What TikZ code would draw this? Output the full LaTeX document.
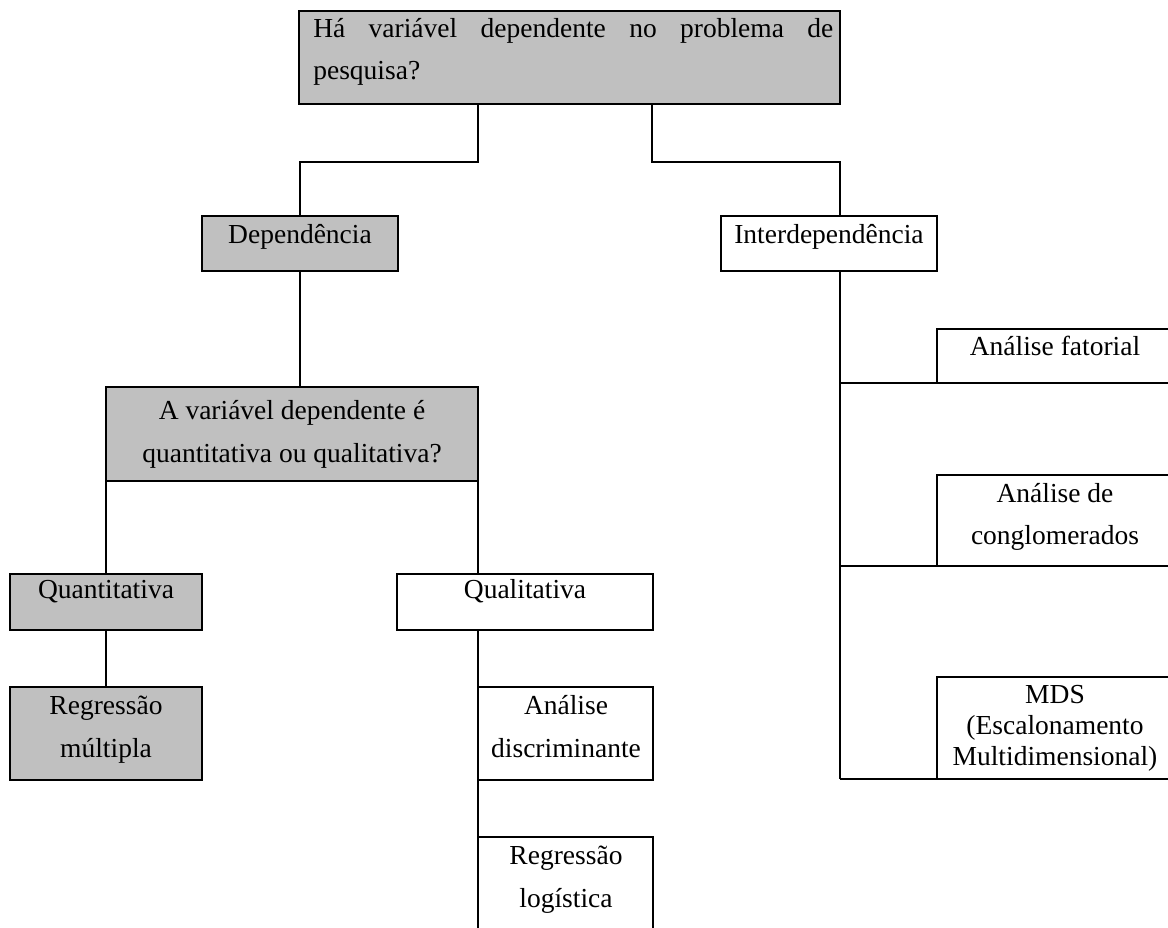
\documentclass[tikz,border=0pt]{standalone}
\usepackage{fontspec}
\setmainfont{Liberation Serif}
\usetikzlibrary{fit,calc}
\definecolor{boxgray}{HTML}{C0C0C0}
\begin{document}
\begin{tikzpicture}[x=0.5pt,y=-0.5pt,line width=1.3pt,
  graybox/.style={draw=black,fill=boxgray,inner sep=0pt,outer sep=0pt},
  whitebox/.style={draw=black,fill=white,inner sep=0pt,outer sep=0pt},
  txt/.style={anchor=base,inner sep=0pt,font=\fontsize{13.75}{16}\selectfont},
  txtw/.style={anchor=base west,inner sep=0pt,font=\fontsize{13.75}{16}\selectfont}]
\useasboundingbox (0,0) rectangle (1168,927);
\clip (0,0) rectangle (1168,927);
% boxes
\node[graybox,fit={(299,11)(840,104)}] (top) {};
\node[graybox,fit={(202,216)(398,271)}] (dep) {};
\node[whitebox,fit={(721,216)(937,271)}] (inter) {};
\node[graybox,fit={(106,387)(478,481)}] (q) {};
\node[graybox,fit={(10,574)(202,630)}] (quant) {};
\node[whitebox,fit={(397,574)(653,630)}] (qual) {};
\node[graybox,fit={(10,687)(202,780)}] (regm) {};
\node[whitebox,fit={(478,687)(653,780)}] (disc) {};
\node[whitebox,fit={(478,837)(653,960)}] (reglog) {};
\node[whitebox,fit={(937,329)(1180,383)}] (fat) {};
\node[whitebox,fit={(937,475)(1180,566)}] (cong) {};
\node[whitebox,fit={(937,677)(1180,779)}] (mds) {};
% texts
\node[txtw] (t1) at (312,37) {\makebox[260pt][s]{Há variável dependente no problema de}};
\node[txtw] (t2) at (312,79) {pesquisa?};
\node[txt] (tdep) at (300,243) {Dependência};
\node[txt] (tint) at (829,243) {Interdependência};
\node[txt] (tq1) at (292,419) {A variável dependente é};
\node[txt] (tq2) at (292,462) {quantitativa ou qualitativa?};
\node[txt] (tquant) at (106,598) {Quantitativa};
\node[txt] (tqual) at (525,598) {Qualitativa};
\node[txt] (trm1) at (106,714) {Regressão};
\node[txt] (trm2) at (106,757) {múltipla};
\node[txt] (tad1) at (566,714) {Análise};
\node[txt] (tad2) at (566,757) {discriminante};
\node[txt] (trl1) at (566,864) {Regressão};
\node[txt] (trl2) at (566,907) {logística};
\node[txt] (tfat) at (1055,355) {Análise fatorial};
\node[txt] (tc1) at (1055,502) {Análise de};
\node[txt] (tc2) at (1055,544) {conglomerados};
\node[txt] (tm1) at (1055,703) {MDS};
\node[txt] (tm2) at (1055,734) {(Escalonamento};
\node[txt] (tm3) at (1055,765) {Multidimensional)};
% connectors
\coordinate (j1) at (478,162);
\coordinate (j2) at (652,162);
\coordinate (sp) at (840,0);
\draw (top.south -| j1) -- (j1) -| (dep.north);
\draw (top.south -| j2) -- (j2) -| (inter.north -| sp);
\draw (dep.south) -- (dep.south |- q.north);
\draw (q.south west) -- (quant.north);
\draw (q.south east) -- (q.south east |- qual.north);
\draw (quant.south) -- (regm.north);
\draw (qual.south -| disc.west) -- (disc.north west);
\draw (disc.south west) -- (reglog.north west);
\draw (inter.south -| sp) -- (sp |- mds.south);
\draw (sp |- fat.south) -- (fat.south west);
\draw (sp |- cong.south) -- (cong.south west);
\draw (sp |- mds.south) -- (mds.south west);
\end{tikzpicture}
\end{document}
